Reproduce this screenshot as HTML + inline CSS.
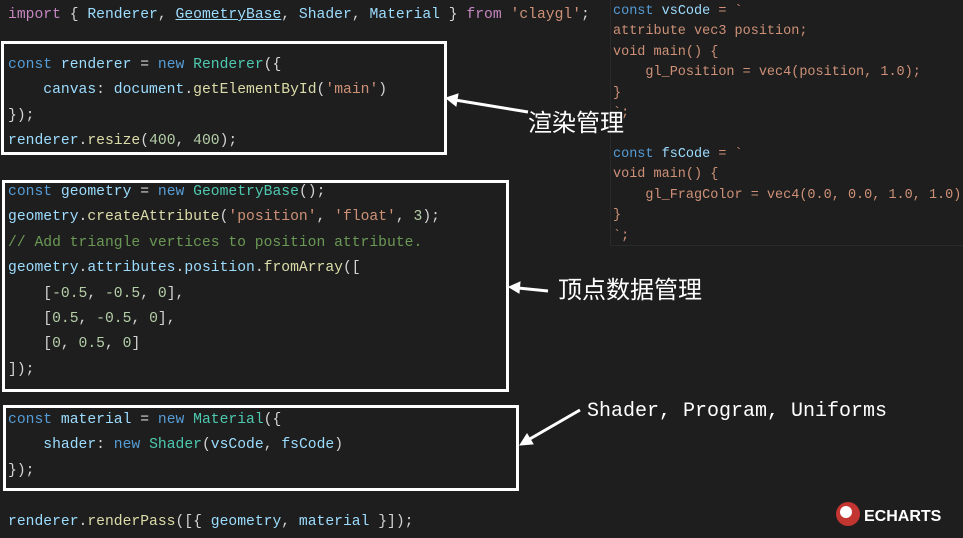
<!DOCTYPE html>
<html><head><meta charset="utf-8"><style>
body{margin:0;width:963px;height:538px;background:#1e1e1e;overflow:hidden;position:relative;font-family:"Liberation Mono",monospace}
.l{position:absolute;left:8px;font-size:14.7px;white-space:pre;color:#d4d4d4;line-height:20px}
.r{position:absolute;left:613px;font-size:13.5px;white-space:pre;color:#ce9178;line-height:18px}
.k{color:#569cd6}.v{color:#9cdcfe}.f{color:#dcdcaa}.c{color:#4ec9b0}.s{color:#ce9178}.n{color:#b5cea8}.g{color:#6a9955}.p{color:#c586c0}
.box{position:absolute;border:3px solid #fff}
.lab{position:absolute;color:#fff;font-family:"Liberation Sans","Noto Sans CJK SC",sans-serif;font-size:24px;white-space:nowrap;line-height:28px}
</style></head><body>
<div style="position:absolute;left:610px;top:0;width:1px;height:245px;background:#2a2a2a"></div>
<div style="position:absolute;left:610px;top:245px;width:353px;height:1px;background:#2a2a2a"></div>
<div class="l" style="top:5px"><span class="p">import</span> { <span class="v">Renderer</span>, <span class="v" style="text-decoration:underline">GeometryBase</span>, <span class="v">Shader</span>, <span class="v">Material</span> } <span class="p">from</span> <span class="s">'claygl'</span>;</div>
<div class="l" style="top:55px"><span class="k">const</span> <span class="v">renderer</span> = <span class="k">new</span> <span class="c">Renderer</span>({</div>
<div class="l" style="top:80px">    <span class="v">canvas</span>: <span class="v">document</span>.<span class="f">getElementById</span>(<span class="s">'main'</span>)</div>
<div class="l" style="top:106px">});</div>
<div class="l" style="top:131px"><span class="v">renderer</span>.<span class="f">resize</span>(<span class="n">400</span>, <span class="n">400</span>);</div>
<div class="l" style="top:182px"><span class="k">const</span> <span class="v">geometry</span> = <span class="k">new</span> <span class="c">GeometryBase</span>();</div>
<div class="l" style="top:207px"><span class="v">geometry</span>.<span class="f">createAttribute</span>(<span class="s">'position'</span>, <span class="s">'float'</span>, <span class="n">3</span>);</div>
<div class="l" style="top:233px"><span class="g">// Add triangle vertices to position attribute.</span></div>
<div class="l" style="top:258px"><span class="v">geometry</span>.<span class="v">attributes</span>.<span class="v">position</span>.<span class="f">fromArray</span>([</div>
<div class="l" style="top:284px">    [<span class="n">-0.5</span>, <span class="n">-0.5</span>, <span class="n">0</span>],</div>
<div class="l" style="top:309px">    [<span class="n">0.5</span>, <span class="n">-0.5</span>, <span class="n">0</span>],</div>
<div class="l" style="top:334px">    [<span class="n">0</span>, <span class="n">0.5</span>, <span class="n">0</span>]</div>
<div class="l" style="top:360px">]);</div>
<div class="l" style="top:410px"><span class="k">const</span> <span class="v">material</span> = <span class="k">new</span> <span class="c">Material</span>({</div>
<div class="l" style="top:435px">    <span class="v">shader</span>: <span class="k">new</span> <span class="c">Shader</span>(<span class="v">vsCode</span>, <span class="v">fsCode</span>)</div>
<div class="l" style="top:461px">});</div>
<div class="l" style="top:512px"><span class="v">renderer</span>.<span class="f">renderPass</span>([{ <span class="v">geometry</span>, <span class="v">material</span> }]);</div>

<div class="r" style="top:3px"><span class="k">const</span> <span class="v">vsCode</span> = `</div>
<div class="r" style="top:23px">attribute vec3 position;</div>
<div class="r" style="top:44px">void main() {</div>
<div class="r" style="top:64px">    gl_Position = vec4(position, 1.0);</div>
<div class="r" style="top:85px">}</div>
<div class="r" style="top:105px">`;</div>
<div class="r" style="top:146px"><span class="k">const</span> <span class="v">fsCode</span> = `</div>
<div class="r" style="top:166px">void main() {</div>
<div class="r" style="top:187px">    gl_FragColor = vec4(0.0, 0.0, 1.0, 1.0);</div>
<div class="r" style="top:207px">}</div>
<div class="r" style="top:228px">`;</div>

<div class="box" style="left:1px;top:41px;width:440px;height:108px"></div>
<div class="box" style="left:2px;top:180px;width:501px;height:206px"></div>
<div class="box" style="left:3px;top:405px;width:510px;height:80px"></div>

<svg style="position:absolute;left:0;top:0" width="963" height="538">
<g stroke="#fff" stroke-width="3" fill="#fff">
<line x1="528" y1="112" x2="455" y2="100"/>
<polygon points="446,98 458,94 456,106" stroke-width="1"/>
<line x1="548" y1="291" x2="518" y2="288"/>
<polygon points="509,287 520,282 519,293" stroke-width="1"/>
<line x1="580" y1="410" x2="528" y2="440"/>
<polygon points="520,445 527,434 533,444" stroke-width="1"/>
</g>
<circle cx="848" cy="514" r="12" fill="#c23531"/>
<circle cx="846" cy="512" r="6" fill="#fff"/>
<text x="864" y="521" fill="#fff" font-family="Liberation Sans" font-weight="bold" font-size="16">ECHARTS</text>
</svg>
<div class="lab" style="left:528px;top:110px">渲染管理</div>
<div class="lab" style="left:558px;top:277px">顶点数据管理</div>
<div class="lab" style="left:587px;top:398px;font-family:'Liberation Mono',monospace;font-size:20px">Shader, Program, Uniforms</div>
</body></html>
